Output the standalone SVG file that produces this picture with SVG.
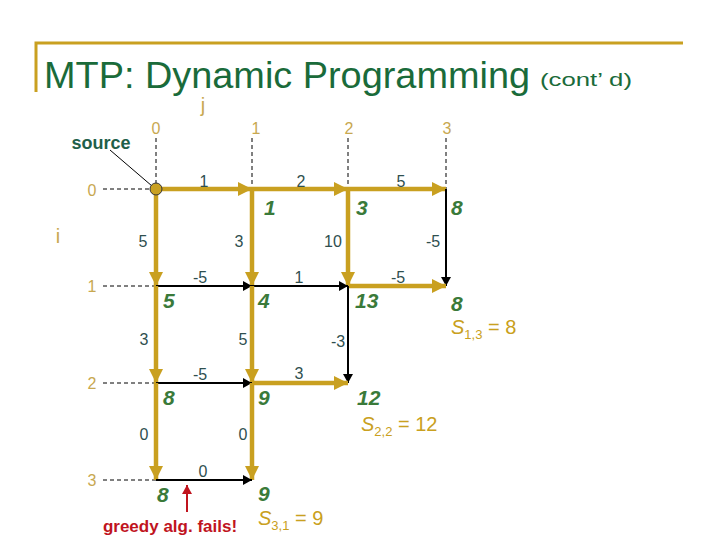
<svg xmlns="http://www.w3.org/2000/svg" width="720" height="540" viewBox="0 0 720 540">
<defs>
<marker id="ag" markerUnits="userSpaceOnUse" markerWidth="16" markerHeight="14" refX="14" refY="7" orient="auto"><path d="M0,0 L14,7 L0,14 z" fill="#C9A020"/></marker>
<marker id="ab" markerUnits="userSpaceOnUse" markerWidth="10" markerHeight="10" refX="9" refY="5" orient="auto"><path d="M0,0 L9,5 L0,10 z" fill="#000"/></marker>
<marker id="ar" markerUnits="userSpaceOnUse" markerWidth="10" markerHeight="10" refX="9" refY="5" orient="auto"><path d="M0,0 L9,5 L0,10 z" fill="#C0141E"/></marker>
</defs>
<style>
.g{stroke:#C9A020;stroke-width:4.5;fill:none;marker-end:url(#ag)}
.b{stroke:#000;stroke-width:2;fill:none;marker-end:url(#ab)}
.d{stroke:#000;stroke-width:1;stroke-dasharray:4,3;fill:none}
.ax{font-family:"Liberation Sans",Arial,sans-serif;font-size:16px;fill:#C8A850;text-anchor:middle}
.el{font-family:"Liberation Sans",Arial,sans-serif;font-size:16px;fill:#2F4F4F;text-anchor:middle}
.nv{font-family:"Liberation Sans",Arial,sans-serif;font-size:21px;font-weight:bold;font-style:italic;fill:#3A7A3A}
.s{font-family:"Liberation Sans",Arial,sans-serif;font-size:20px;fill:#C9A020}
</style>
<rect width="720" height="540" fill="#fff"/>
<g id="title">
<path d="M36,92 V43 H683" stroke="#C9A020" stroke-width="3" fill="none"/>
<text x="44" y="88" font-family="Liberation Sans,Arial,sans-serif" font-size="37" fill="#1A6B3A" textLength="486" lengthAdjust="spacingAndGlyphs">MTP: Dynamic Programming</text>
<text x="540" y="86" font-family="Liberation Sans,Arial,sans-serif" font-size="19" fill="#1A6B3A" textLength="92" lengthAdjust="spacingAndGlyphs">(cont’ d)</text>
</g>
<g id="axes">
<text class="ax" x="203" y="112" style="font-size:20px">j</text>
<text class="ax" x="58" y="243" style="font-size:20px">i</text>
<text class="ax" x="156" y="134">0</text>
<text class="ax" x="256" y="134">1</text>
<text class="ax" x="349" y="134">2</text>
<text class="ax" x="447" y="134">3</text>
<text class="ax" x="92" y="196">0</text>
<text class="ax" x="92" y="292">1</text>
<text class="ax" x="92" y="389">2</text>
<text class="ax" x="92" y="486">3</text>
<path class="d" d="M156,138 V189 M252,138 V189 M348,138 V189 M446,138 V189 M103,189 H156 M103,286 H156 M103,383 H156 M103,480 H156"/>
</g>
<g id="connectors">
<path class="g" d="M156,189 H252"/>
<path class="g" d="M252,189 H348"/>
<path class="g" d="M348,189 H446"/>
<path class="g" d="M156,189 V286"/>
<path class="g" d="M252,189 V286"/>
<path class="g" d="M348,189 V286"/>
<path class="b" d="M446,189 V286"/>
<path class="b" d="M156,286 H252"/>
<path class="b" d="M252,286 H348"/>
<path class="g" d="M348,286 H446"/>
<path class="g" d="M156,286 V383"/>
<path class="g" d="M252,286 V383"/>
<path class="b" d="M348,286 V383"/>
<path class="b" d="M156,383 H252"/>
<path class="g" d="M252,383 H348"/>
<path class="g" d="M156,383 V480"/>
<path class="g" d="M252,383 V480"/>
<path class="b" d="M156,480 H252"/>
</g>
<g id="edge-labels">
<text class="el" x="204" y="187">1</text>
<text class="el" x="301" y="187">2</text>
<text class="el" x="401" y="187">5</text>
<text class="el" x="143" y="247">5</text>
<text class="el" x="239" y="247">3</text>
<text class="el" x="333" y="247">10</text>
<text class="el" x="433" y="247">-5</text>
<text class="el" x="200" y="283">-5</text>
<text class="el" x="299" y="283">1</text>
<text class="el" x="398" y="283">-5</text>
<text class="el" x="144" y="345">3</text>
<text class="el" x="243" y="345">5</text>
<text class="el" x="338" y="347">-3</text>
<text class="el" x="200" y="380">-5</text>
<text class="el" x="299" y="379">3</text>
<text class="el" x="144" y="440">0</text>
<text class="el" x="243" y="440">0</text>
<text class="el" x="203" y="477">0</text>
</g>
<g id="source">
<line x1="110" y1="150" x2="152" y2="186" stroke="#000" stroke-width="1"/>
<circle cx="156" cy="189" r="6" fill="#C9A020" stroke="#333" stroke-width="1"/>
<text x="101" y="149" font-family="Liberation Sans,Arial,sans-serif" font-size="18" font-weight="bold" fill="#1F5F4A" text-anchor="middle">source</text>
</g>
<g id="n01"><text class="nv" x="264" y="215">1</text></g>
<g id="n02"><text class="nv" x="356" y="215">3</text></g>
<g id="n03"><text class="nv" x="451" y="215">8</text></g>
<g id="n10"><text class="nv" x="163" y="308">5</text></g>
<g id="n11"><text class="nv" x="258" y="308">4</text></g>
<g id="n12"><text class="nv" x="355" y="308">13</text></g>
<g id="n13"><text class="nv" x="451" y="311">8</text><text class="s" x="451" y="334"><tspan font-style="italic">S</tspan><tspan font-size="13" dy="5">1,3</tspan><tspan dy="-5"> = 8</tspan></text></g>
<g id="n20"><text class="nv" x="163" y="405">8</text></g>
<g id="n21"><text class="nv" x="258" y="405">9</text></g>
<g id="n22"><text class="nv" x="357" y="405">12</text><text class="s" x="361" y="431"><tspan font-style="italic">S</tspan><tspan font-size="13" dy="5">2,2</tspan><tspan dy="-5"> = 12</tspan></text></g>
<g id="n30"><text class="nv" x="157" y="502">8</text></g>
<g id="n31"><text class="nv" x="258" y="501">9</text><text class="s" x="258" y="525"><tspan font-style="italic">S</tspan><tspan font-size="13" dy="5">3,1</tspan><tspan dy="-5"> = 9</tspan></text></g>
<g id="greedy">
<line x1="187" y1="512" x2="187" y2="485" stroke="#C0141E" stroke-width="2" marker-end="url(#ar)"/>
<text x="170" y="532" font-family="Liberation Sans,Arial,sans-serif" font-size="17" font-weight="bold" fill="#C0141E" text-anchor="middle">greedy alg. fails!</text>
</g>
</svg>
